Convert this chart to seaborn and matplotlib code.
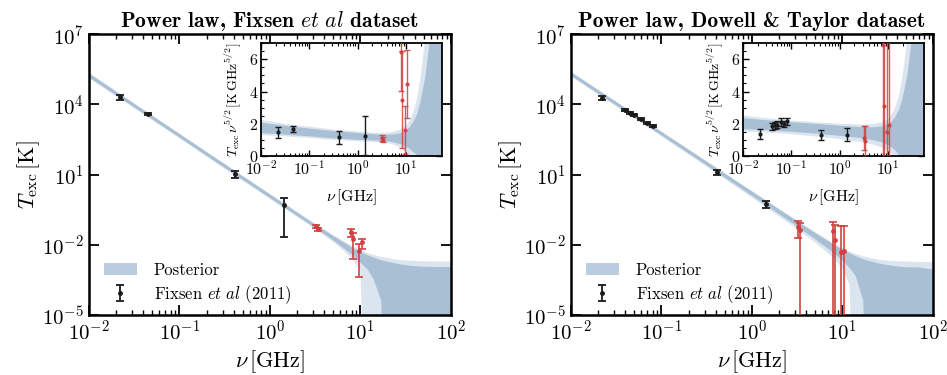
"""
Power-law posterior for the radio excess temperature, two datasets.
Main panels: T_exc vs frequency (log-log); insets: T_exc * nu^{5/2} (linear).
"""
import numpy as np
import matplotlib
matplotlib.use('Agg')
import matplotlib.pyplot as plt
import seaborn as sns
from matplotlib.ticker import LogLocator, MultipleLocator, NullFormatter, FixedLocator, NullLocator
from matplotlib.patches import Patch

# Fixsen et al dataset
fx_nu_low = [0.022, 0.045, 0.408, 1.42]
fx_y_low = [1.46, 1.67, 1.15, 1.25]
fx_err_low = [0.35, 0.18, 0.38, 1.20]
fx_nu_arc = [3.20, 3.41, 7.97, 8.33, 9.72, 10.49]
fx_y_arc = [1.12, 1.00, 6.42, 3.50, 1.62, 4.47]
fx_err_arc = [0.18, 0.15, 2.40, 3.00, 1.50, 2.10]

# Dowell & Taylor dataset
dt_nu_low = [0.022, 0.040, 0.045, 0.050, 0.060, 0.070, 0.080, 0.408, 1.42]
dt_y_low = [1.38, 1.85, 1.90, 1.95, 2.10, 2.00, 2.15, 1.32, 1.32]
dt_err_low = [0.30, 0.22, 0.20, 0.20, 0.25, 0.20, 0.20, 0.30, 0.42]
dt_nu_arc = [3.20, 3.41, 7.97, 8.33, 9.72, 10.49]
dt_y_arc = [1.10, 0.90, 6.90, 3.10, 1.50, 1.90]
dt_err_arc = [0.75, 0.95, 9.3, 11.0, 17.0, 21.0]

# --- posterior bands (68% / 95%), same units ---
band_nu = [0.01, 0.03, 0.1, 0.3, 1, 3, 5, 8, 10, 12, 14, 17, 20, 25, 30, 40, 50, 70, 100]
fx_lo95 = [1.30, 1.22, 1.12, 1.00, 0.92, 0.85, 0.75, 0.50, 0.25, 0.00, -0.4, -1.2, -2.6, -5.0, -8.2, -18, -32, -76, -188]
fx_hi95 = [2.25, 2.00, 1.82, 1.65, 1.52, 1.42, 1.48, 1.65, 1.90, 2.20, 2.7, 3.6, 4.9, 7.3, 10.6, 20.5, 35, 79, 191]
fx_lo68 = [1.42, 1.33, 1.22, 1.10, 1.00, 0.95, 0.88, 0.72, 0.55, 0.45, 0.25, 0.05, -0.8, -2.3, -4.2, -9.5, -17.5, -43, -109]
fx_hi68 = [2.08, 1.88, 1.70, 1.55, 1.42, 1.32, 1.33, 1.42, 1.58, 1.80, 2.1, 2.6, 3.4, 4.9, 6.8, 12.3, 20.5, 46, 111]

dt_lo95 = [1.52, 1.45, 1.35, 1.22, 1.05, 0.85, 0.70, 0.50, 0.30, 0.10, -0.2, -0.9, -2.2, -4.5, -7.6, -17, -31, -73, -180]
dt_hi95 = [2.50, 2.35, 2.20, 2.10, 2.00, 1.95, 1.98, 2.10, 2.30, 2.60, 3.0, 3.8, 5.0, 7.2, 10.4, 20, 34, 76, 181]
dt_lo68 = [1.67, 1.60, 1.50, 1.40, 1.25, 1.10, 0.98, 0.82, 0.68, 0.52, 0.35, 0.05, -0.6, -1.9, -3.6, -8.4, -15.5, -36, -87]
dt_hi68 = [2.35, 2.22, 2.10, 2.00, 1.88, 1.78, 1.78, 1.85, 1.98, 2.15, 2.4, 2.9, 3.6, 5.0, 6.9, 12, 19.5, 44, 88]

main_yticks = [1e-5, 1e-2, 1e1, 1e4, 1e7]

LIGHT = '#dbe5ef'
DARK = '#a9bfd4'
LEGEND_BLUE = '#bacde0'
RED = '#d03e3e'


def to_temp(nu, y):
    """K GHz^{5/2} -> K, clipped for the log axis."""
    nu = np.asarray(nu, float)
    return np.clip(np.asarray(y, float) / nu ** 2.5, 1e-12, None)


def draw_main(ax, lo95, hi95, lo68, hi68, nu_low, y_low, e_low, nu_arc, y_arc, e_arc, title):
    ax.fill_between(band_nu, to_temp(band_nu, lo95), to_temp(band_nu, hi95), color=LIGHT, lw=0)
    ax.fill_between(band_nu, to_temp(band_nu, lo68), to_temp(band_nu, hi68), color=DARK, lw=0)

    nl = np.asarray(nu_low)
    na = np.asarray(nu_arc)
    eb = ax.errorbar(nl, np.asarray(y_low) / nl ** 2.5, yerr=np.asarray(e_low) / nl ** 2.5,
                     fmt='o', ms=2.5, color='k', elinewidth=1.3, capsize=3, capthick=1.3, zorder=4)
    ax.errorbar(na, np.asarray(y_arc) / na ** 2.5, yerr=np.asarray(e_arc) / na ** 2.5,
                fmt='o', ms=2.5, color=RED, elinewidth=1.3, capsize=3, capthick=1.3, alpha=0.9, zorder=4)

    ax.set_xscale('log')
    ax.set_yscale('log')
    ax.set_xlim(1e-2, 1e2)
    ax.set_ylim(1e-5, 1e7)
    ax.yaxis.set_major_locator(FixedLocator(main_yticks))
    ax.yaxis.set_minor_locator(NullLocator())
    ax.xaxis.set_major_locator(LogLocator(base=10.0, numticks=10))
    ax.xaxis.set_minor_locator(LogLocator(base=10.0, subs=np.arange(2, 10), numticks=20))
    ax.xaxis.set_minor_formatter(NullFormatter())
    ax.tick_params(which='major', labelsize=15, length=7, width=1.3)
    ax.tick_params(which='minor', length=3.5, width=1.0)
    ax.set_xlabel(r'$\nu\,$[GHz]', fontsize=16, labelpad=3)
    ax.set_ylabel(r'$T_\mathrm{exc}\,$[K]', fontsize=16, labelpad=0)
    ax.set_title(title, fontsize=15.5, fontfamily='cmb10', pad=5)

    handles = [Patch(color=LEGEND_BLUE, lw=0), eb]
    labels = ['Posterior', r'Fixsen $\mathit{et\ al}$ (2011)']
    ax.legend(handles, labels, loc='lower left', bbox_to_anchor=(0.015, 0.0), frameon=False,
              fontsize=12, handlelength=2.0, borderaxespad=0.15, labelspacing=0.3,
              handletextpad=1.0)


def draw_inset(ins, lo95, hi95, lo68, hi68, nu_low, y_low, e_low, nu_arc, y_arc, e_arc):
    ins.set_facecolor('white')
    ins.fill_between(band_nu, lo95, hi95, color=LIGHT, lw=0)
    ins.fill_between(band_nu, lo68, hi68, color=DARK, lw=0)
    ins.errorbar(nu_low, y_low, yerr=e_low, fmt='o', ms=2, color='k',
                 elinewidth=1.0, capsize=2.5, capthick=1.0, zorder=4)
    ins.errorbar(nu_arc, y_arc, yerr=e_arc, fmt='o', ms=2, color=RED,
                 elinewidth=1.0, capsize=2.5, capthick=1.0, alpha=0.85, zorder=4)
    ins.set_xscale('log')
    ins.set_xlim(1e-2, 55)
    ins.set_ylim(0, 7)
    ins.yaxis.set_major_locator(MultipleLocator(2))
    ins.yaxis.set_minor_locator(MultipleLocator(0.5))
    ins.xaxis.set_major_locator(LogLocator(base=10.0, numticks=10))
    ins.xaxis.set_minor_locator(LogLocator(base=10.0, subs=np.arange(2, 10), numticks=20))
    ins.xaxis.set_minor_formatter(NullFormatter())
    ins.tick_params(which='major', labelsize=11.5, length=4.5, width=1.0, pad=2)
    ins.tick_params(which='minor', length=2.5, width=0.8)
    ins.set_xlabel(r'$\nu\,$[GHz]', fontsize=11.5, labelpad=7)
    ins.set_ylabel(r'$T_\mathrm{exc}\,\nu^{5/2}\,$[K$\,$GHz$^{5/2}$]', fontsize=10, labelpad=4)
    for s in ins.spines.values():
        s.set_linewidth(1.3)


sns.set_theme(style='ticks')
plt.rcParams.update({
    'font.family': 'serif',
    'font.serif': ['cmr10'],
    'mathtext.fontset': 'cm',
    'axes.formatter.use_mathtext': True,
    'axes.unicode_minus': False,
    'axes.linewidth': 1.8,
    'axes.edgecolor': 'black',
    'text.color': 'black',
    'axes.labelcolor': 'black',
    'xtick.color': 'black',
    'ytick.color': 'black',
    'xtick.direction': 'in',
    'ytick.direction': 'in',
    'xtick.top': True,
    'ytick.right': True,
})

fig = plt.figure(figsize=(9.47, 3.75), dpi=100)
ax_l = fig.add_axes([0.094, 0.160, 0.382, 0.749])
ax_r = fig.add_axes([0.603, 0.160, 0.382, 0.749])
ins_l = fig.add_axes([0.2756, 0.584, 0.191, 0.301])
ins_r = fig.add_axes([0.7846, 0.584, 0.191, 0.301])

draw_main(ax_l, fx_lo95, fx_hi95, fx_lo68, fx_hi68, fx_nu_low, fx_y_low, fx_err_low,
          fx_nu_arc, fx_y_arc, fx_err_arc, r'Power law, Fixsen $\mathit{et\ al}$ dataset')
draw_main(ax_r, dt_lo95, dt_hi95, dt_lo68, dt_hi68, dt_nu_low, dt_y_low, dt_err_low,
          dt_nu_arc, dt_y_arc, dt_err_arc, r'Power law, Dowell & Taylor dataset')
draw_inset(ins_l, fx_lo95, fx_hi95, fx_lo68, fx_hi68, fx_nu_low, fx_y_low, fx_err_low,
           fx_nu_arc, fx_y_arc, fx_err_arc)
draw_inset(ins_r, dt_lo95, dt_hi95, dt_lo68, dt_hi68, dt_nu_low, dt_y_low, dt_err_low,
           dt_nu_arc, dt_y_arc, dt_err_arc)

fig.savefig('out.png', dpi=100)
plt.close(fig)
